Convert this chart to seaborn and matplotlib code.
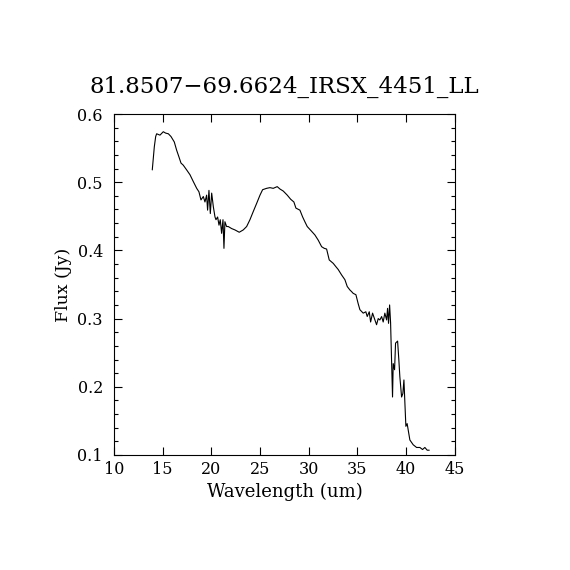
import matplotlib
matplotlib.use("Agg")
import matplotlib.pyplot as plt
from matplotlib.ticker import MultipleLocator
import seaborn as sns
import pandas as pd

wavelength = [
    13.93, 14.14, 14.28, 14.38, 14.72, 15.06, 15.30, 15.58, 15.85, 16.19,
    16.43, 16.67, 16.88, 17.11, 17.46, 17.80, 18.14, 18.49, 18.72, 18.93,
    19.17, 19.34, 19.51, 19.61, 19.75, 19.89, 20.03, 20.20, 20.37, 20.47,
    20.64, 20.78, 20.91, 21.05, 21.19, 21.29, 21.39, 21.56, 21.73, 22.08,
    22.42, 22.86, 23.27, 23.62, 23.96, 24.30, 24.65, 24.99, 25.26, 25.67,
    26.01, 26.35, 26.76, 27.04, 27.38, 27.79, 28.14, 28.47, 28.68, 29.09,
    29.37, 29.60, 29.84, 30.29, 30.63, 30.97, 31.32, 31.59, 31.83, 32.10,
    32.51, 32.79, 33.02, 33.37, 33.71, 33.95, 34.22, 34.40, 34.56, 34.84,
    35.07, 35.25, 35.59, 35.86, 36.00, 36.21, 36.35, 36.55, 36.79, 36.96,
    37.13, 37.30, 37.48, 37.64, 37.81, 37.99, 38.09, 38.19, 38.30, 38.40,
    38.50, 38.60, 38.67, 38.81, 38.91, 39.12, 39.25, 39.35, 39.53, 39.66,
    39.77, 39.87, 39.97, 40.10, 40.24, 40.38, 40.72, 41.07, 41.41, 41.68,
    41.92, 42.16, 42.37,
]
flux = [
    0.518, 0.552, 0.567, 0.571, 0.569, 0.574, 0.572, 0.571, 0.567, 0.559,
    0.547, 0.537, 0.528, 0.525, 0.518, 0.511, 0.501, 0.491, 0.486, 0.474,
    0.479, 0.471, 0.481, 0.459, 0.488, 0.454, 0.484, 0.464, 0.449, 0.445,
    0.449, 0.437, 0.445, 0.425, 0.445, 0.403, 0.442, 0.435, 0.435, 0.432,
    0.430, 0.4266, 0.430, 0.435, 0.445, 0.457, 0.469, 0.481, 0.489, 0.491,
    0.492, 0.491, 0.4935, 0.490, 0.487, 0.481, 0.475, 0.471, 0.462, 0.459,
    0.449, 0.442, 0.435, 0.428, 0.4226, 0.415, 0.4054, 0.403, 0.402, 0.386,
    0.381, 0.376, 0.372, 0.364, 0.357, 0.347, 0.342, 0.3395, 0.337, 0.335,
    0.322, 0.313, 0.308, 0.310, 0.303, 0.310, 0.295, 0.308, 0.298, 0.291,
    0.300, 0.298, 0.303, 0.295, 0.308, 0.298, 0.315, 0.293, 0.320, 0.294,
    0.239, 0.185, 0.234, 0.225, 0.264, 0.267, 0.239, 0.215, 0.185, 0.190,
    0.210, 0.176, 0.142, 0.146, 0.134, 0.122, 0.115, 0.111, 0.111, 0.108,
    0.111, 0.107, 0.107,
]

title = "81.8507\u221269.6624_IRSX_4451_LL"
x_label = "Wavelength (um)"
y_label = "Flux (Jy)"
x_ticks = [10, 15, 20, 25, 30, 35, 40, 45]
y_ticks = [0.1, 0.2, 0.3, 0.4, 0.5, 0.6]

sns.set_style("ticks")
plt.rcParams["font.family"] = ["DejaVu Serif"]
plt.rcParams["text.color"] = "black"
plt.rcParams["axes.labelcolor"] = "black"
plt.rcParams["xtick.color"] = "black"
plt.rcParams["ytick.color"] = "black"

df = pd.DataFrame({"wl": wavelength, "flux": flux})

fig = plt.figure(figsize=(5.7, 5.7), dpi=100)
ax = fig.add_axes([0.2, 0.2018, 0.598, 0.5982])
sns.lineplot(data=df, x="wl", y="flux", sort=False, estimator=None,
             color="black", linewidth=0.8, ax=ax)

ax.set_xlim(10, 45)
ax.set_ylim(0.1, 0.6)
ax.set_xticks(x_ticks)
ax.set_xticklabels([str(t) for t in x_ticks])
ax.set_yticks(y_ticks)
ax.set_yticklabels([f"{t:.1f}" for t in y_ticks])
ax.yaxis.set_minor_locator(MultipleLocator(0.02))

ax.tick_params(axis="both", which="both", direction="in", top=True, right=True,
               labelsize=11.5, colors="black")
ax.tick_params(axis="x", which="major", length=6, width=0.8, pad=4)
ax.tick_params(axis="y", which="major", length=6, width=0.8, pad=8)
ax.tick_params(axis="y", which="minor", length=3, width=0.8)
for s in ax.spines.values():
    s.set_linewidth(0.8)
    s.set_color("black")

ax.set_xlabel(x_label, fontsize=13, labelpad=4, color="black")
ax.set_ylabel(y_label, fontsize=12.5, labelpad=4, color="black")
ax.set_title(title, fontsize=16.5, pad=15, color="black")

fig.savefig("out.png", dpi=100)
